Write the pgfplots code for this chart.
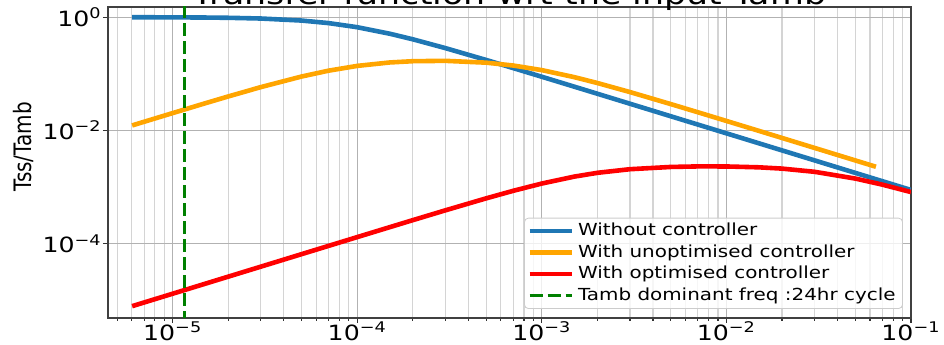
\documentclass[border=0pt]{standalone}
\usepackage{fontspec}
\setmainfont{DejaVu Sans}[FakeStretch=1.2]
\newfontfamily\ylabfont{DejaVu Sans}
\usepackage{pgfplots}
\pgfplotsset{compat=1.18}
\usetikzlibrary{calc}
\definecolor{mplblue}{HTML}{1F77B4}
\definecolor{mplorange}{HTML}{FFA500}
\definecolor{mplred}{HTML}{FF0000}
\definecolor{mplgreen}{HTML}{008000}
\begin{document}
\begin{tikzpicture}
\begin{axis}[
  scale only axis, width=401.5pt, height=155.5pt,
  xmode=log, ymode=log,
  xmin=4.46e-6, xmax=0.1, ymin=4.9e-6, ymax=1.514,
  xtick={1e-5,1e-4,1e-3,1e-2,1e-1},
  xticklabels={10\textsuperscript{−5},10\textsuperscript{−4},10\textsuperscript{−3},10\textsuperscript{−2},10\textsuperscript{−1}},
  ytick={1e-4,1e-2,1},
  yticklabels={10\textsuperscript{−4},10\textsuperscript{−2},10\textsuperscript{0}},
  minor xtick={5e-6,6e-6,7e-6,8e-6,9e-6,
    2e-5,3e-5,4e-5,5e-5,6e-5,7e-5,8e-5,9e-5,
    2e-4,3e-4,4e-4,5e-4,6e-4,7e-4,8e-4,9e-4,
    2e-3,3e-3,4e-3,5e-3,6e-3,7e-3,8e-3,9e-3,
    2e-2,3e-2,4e-2,5e-2,6e-2,7e-2,8e-2,9e-2},
  minor ytick={},
  xmajorgrids, xminorgrids, ymajorgrids,
  major grid style={black!30, line width=0.6pt},
  minor grid style={black!17, line width=0.6pt},
  tick align=outside, tick pos=left,
  major tick length=2.5pt, minor tick length=1.5pt,
  every tick/.style={black!80, line width=0.6pt},
  axis line style={black!75, line width=0.8pt},
  tick label style={font=\fontsize{10.5}{12}\selectfont},
  xticklabel style={inner sep=0pt, yshift=1pt},
  yticklabel style={inner sep=0pt, xshift=-0.5pt},
  ylabel={\scalebox{1}[1.2]{\ylabfont\fontsize{10}{12}\selectfont Tss/Tamb}},
  ylabel style={at={(axis description cs:-0.105,0.55)}, anchor=center},
  title={Transfer function wrt the input Tamb},
  title style={at={(axis description cs:0.5,1)}, anchor=base, yshift=-5pt, inner sep=0pt, font=\fontsize{14.5}{17}\selectfont},
  legend style={at={(0.99,0.029)}, anchor=south east, draw=black!20, rounded corners=2pt,
    fill=white, fill opacity=0.8, text opacity=1, font=\fontsize{8.3}{10}\selectfont,
    cells={anchor=west}, inner xsep=1.5pt, inner ysep=2pt, row sep=2pt,
    nodes={inner ysep=0.5pt}},
  legend image code/.code={\draw[#1] (0pt,0pt) -- (21pt,0pt);},
  every axis plot/.append style={line width=2.3pt},
]
\addplot[mplblue] coordinates {
(6.03e-6,0.9977) (7e-6,0.9969) (1e-5,0.9938) (1.5e-5,0.9862) (2e-5,0.9758) (3e-5,0.9478) (5e-5,0.8721) (7e-5,0.7865) (1e-4,0.6654) (1.5e-4,0.5108) (2e-4,0.4071) (3e-4,0.2848) (5e-4,0.1755) (7e-4,0.1263) (1e-3,0.08877) (1.5e-3,0.05932) (2e-3,0.04452) (3e-3,0.02970) (5e-3,0.01782) (7e-3,0.012732) (1e-2,0.008913) (1.5e-2,0.005942) (2e-2,0.004457) (3e-2,0.002971) (5e-2,0.0017826) (7e-2,0.0012733) (1e-1,0.0008913)
};
\addlegendentry{Without controller}
\addplot[mplorange] coordinates {
(6.03e-6,0.01229) (7e-6,0.014251) (1e-5,0.020299) (1.5e-5,0.030232) (2e-5,0.039914) (3e-5,0.05827) (5e-5,0.0898) (7e-5,0.11387) (1e-4,0.13816) (1.5e-4,0.15885) (2e-4,0.16722) (3e-4,0.16971) (5e-4,0.15747) (7e-4,0.14027) (1e-3,0.11634) (1.5e-3,0.087404) (2e-3,0.068868) (3e-3,0.047708) (5e-3,0.029226) (7e-3,0.020999) (1e-2,0.014746) (1.5e-2,0.009847) (2e-2,0.0073897) (3e-2,0.0049287) (5e-2,0.0029578) (6.46e-2,0.0022894)
};
\addlegendentry{With unoptimised controller}
\addplot[mplred] coordinates {
(6.03e-6,7.931e-6) (7e-6,9.206e-6) (1e-5,1.3152e-5) (1.5e-5,1.9727e-5) (2e-5,2.6302e-5) (3e-5,3.9451e-5) (5e-5,6.5736e-5) (7e-5,9.1999e-5) (1e-4,1.3133e-4) (1.5e-4,1.9664e-4) (2e-4,2.6153e-4) (3e-4,3.8953e-4) (5e-4,6.3503e-4) (7e-4,8.6162e-4) (1e-3,1.1582e-3) (1.5e-3,1.535e-3) (2e-3,1.7896e-3) (3e-3,2.0734e-3) (5e-3,2.2726e-3) (7e-3,2.322e-3) (1e-2,2.3174e-3) (1.5e-2,2.2386e-3) (2e-2,2.1243e-3) (3e-2,1.8665e-3) (5e-2,1.4163e-3) (7e-2,1.1068e-3) (1e-1,8.186e-4)
};
\addlegendentry{With optimised controller}
\addplot[mplgreen, line width=1.5pt, dash pattern=on 6.5pt off 2.5pt] coordinates {(1.1574e-5,1e-7) (1.1574e-5,100)};
\addlegendentry{Tamb dominant freq :24hr cycle}
\end{axis}
\pgfresetboundingbox
\path ($(current axis.south west)+(-54pt,-13.5pt)$) rectangle ($(current axis.north east)+(16.5pt,3.5pt)$);
\end{tikzpicture}
\end{document}
